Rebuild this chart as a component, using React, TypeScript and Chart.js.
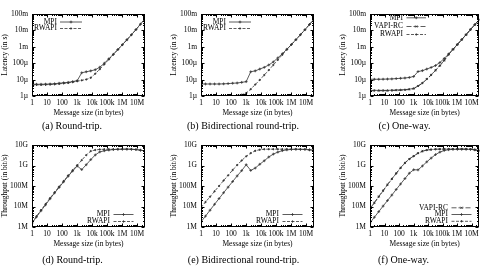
import React, { useEffect, useRef } from "react";
import { Chart, registerables } from "chart.js";
Chart.register(...registerables);

// ---------- data ----------
const sizes = [1, 2, 4, 8, 16, 32, 64, 128, 256, 512, 1024, 2048, 4096, 8192, 16384, 32768, 65536, 131072, 262144, 524288, 1048576, 2097152, 4194304, 8388608, 16777216, 33554432];

const xTickValues = [1, 10, 100, 1000, 10000, 100000, 1000000, 10000000];
const xTickLabels = ["1", "10", "100", "1k", "10k", "100k", "1M", "10M"];
// latency axis in microseconds
const latTickValues = [1, 10, 100, 1000, 10000, 100000];
const latTickLabels = ["1µ", "10µ", "100µ", "1m", "10m", "100m"];
// throughput axis in Mbit/s
const thrTickValues = [1, 10, 100, 1000, 10000];
const thrTickLabels = ["1M", "10M", "100M", "1G", "10G"];

// (a) round-trip latency (µs)
const rtMpiLat = [5.2, 5.2, 5.2, 5.3, 5.4, 5.6, 6.0, 6.4, 6.8, 7.6, 8.6, 26, 30, 34, 40, 57, 100, 185, 350, 680, 1340, 2680, 5400, 11200, 24000, 52000];
const rtRwapiLat = [4.8, 4.8, 4.8, 4.9, 5.0, 5.2, 5.5, 5.9, 6.3, 7.0, 8.0, 9.0, 10.2, 13, 23, 43, 85, 170, 340, 680, 1340, 2680, 5400, 11200, 24000, 52000];
// (b) bidirectional round-trip latency (µs)
const biMpiLat = [5.4, 5.4, 5.4, 5.4, 5.4, 5.5, 5.7, 6.0, 6.2, 6.8, 7.5, 30, 34, 44, 56, 78, 120, 210, 380, 710, 1370, 2720, 5450, 11000, 23000, 48000];
const biRwapiLat = [0.85, 0.86, 0.86, 0.87, 0.88, 0.9, 0.92, 0.96, 1.04, 1.2, 1.5, 2.6, 5.0, 9.5, 19, 38, 78, 160, 330, 680, 1370, 2720, 5450, 11000, 23000, 48000];
// (c) one-way latency (µs)
const owMpiLat = [10.5, 10.5, 10.5, 10.6, 10.8, 11.0, 11.5, 12.0, 12.5, 13.5, 15.5, 31, 35, 44, 55, 72, 110, 195, 360, 700, 1380, 2750, 5500, 11200, 22500, 45000];
const owVapiLat = [2.1, 2.1, 2.1, 2.1, 2.1, 2.15, 2.2, 2.25, 2.35, 2.5, 2.8, 4.0, 6.0, 10.5, 19, 36, 70, 145, 340, 690, 1380, 2750, 5500, 11200, 22500, 45000];
const owRwapiLat = [2.2, 2.2, 2.2, 2.2, 2.2, 2.25, 2.3, 2.35, 2.45, 2.6, 2.9, 4.1, 6.2, 10.8, 19.5, 37, 72, 148, 345, 695, 1380, 2750, 5500, 11200, 22500, 45000];

// (d) round-trip throughput (Mbit/s)
const rtMpiThr = [1.55, 3.1, 6.2, 12, 24, 46, 85, 160, 300, 540, 950, 630, 1090, 1930, 3280, 4600, 5240, 5670, 5990, 6170, 6260, 6260, 6210, 5990, 5590, 5160];
const rtRwapiThr = [1.67, 3.33, 6.7, 13.1, 25.6, 49, 93, 174, 325, 585, 1020, 1820, 3210, 5040, 5700, 6100, 6170, 6170, 6170, 6170, 6260, 6260, 6210, 5990, 5590, 5160];
// (e) bidirectional round-trip throughput (Mbit/s)
const biMpiThr = [1.8, 3.4, 6.6, 12.8, 24.5, 47, 88, 165, 310, 560, 1090, 575, 750, 1150, 1700, 2600, 3600, 4500, 5300, 5800, 6100, 6200, 6150, 6100, 5800, 5600];
const biRwapiThr = [9, 16.5, 30, 55, 100, 185, 330, 600, 1050, 1750, 2800, 4000, 5200, 5900, 6200, 6250, 6250, 6250, 6250, 6250, 6200, 6200, 6150, 6100, 5800, 5600];
// (f) one-way throughput (Mbit/s)
const owVapiThr = [8, 15.5, 31, 60, 118, 225, 420, 780, 1350, 2100, 2900, 4000, 5000, 5700, 6000, 6200, 6300, 6300, 6300, 6300, 6300, 6300, 6250, 6200, 5900, 5300];
const owMpiThr = [1.6, 3.0, 5.6, 10.5, 19.5, 36, 68, 125, 230, 420, 620, 610, 950, 1500, 2300, 3400, 4500, 5400, 5900, 6100, 6200, 6250, 6200, 6100, 5800, 5300];
const owRwapiThr = [7.6, 15, 30, 58, 114, 218, 405, 760, 1320, 2050, 2850, 3950, 4950, 5650, 5980, 6180, 6280, 6300, 6300, 6300, 6300, 6300, 6250, 6200, 5900, 5300];

// ---------- styles ----------
const FONT = '"Liberation Serif", "Times New Roman", serif';
const LINE = "#333";
const styles: Record<string, any> = {
  MPI: { borderDash: [], pointStyle: "cross", pointRadius: 1.4 },
  RWAPI: { borderDash: [3, 1.5], pointStyle: "circle", pointRadius: 0.7 },
  "VAPI-RC": { borderDash: [5, 2], pointStyle: "crossRot", pointRadius: 1.1 },
};

type Series = { label: string; data: number[] };
type PanelDef = {
  left: number; top: number; w: number;
  kind: "lat" | "thr";
  series: Series[];
  caption: string; capX: number; capY: number;
  legend: { textRight: number; s0: number; s1: number; rows: number[] };
};

const panels: PanelDef[] = [
  { left: 0, top: 0, w: 160, kind: "lat", series: [{ label: "MPI", data: rtMpiLat }, { label: "RWAPI", data: rtRwapiLat }], caption: "(a) Round-trip.", capX: 72, capY: 126, legend: { textRight: 25, s0: 28, s1: 50, rows: [22, 28.5] } },
  { left: 169, top: 0, w: 160, kind: "lat", series: [{ label: "MPI", data: biMpiLat }, { label: "RWAPI", data: biRwapiLat }], caption: "(b) Bidirectional round-trip.", capX: 243, capY: 126, legend: { textRight: 25, s0: 28, s1: 50, rows: [22, 28.5] } },
  { left: 338, top: 0, w: 146, kind: "lat", series: [{ label: "MPI", data: owMpiLat }, { label: "VAPI-RC", data: owVapiLat }, { label: "RWAPI", data: owRwapiLat }], caption: "(c) One-way.", capX: 404.5, capY: 126, legend: { textRight: 33, s0: 36.5, s1: 56, rows: [17.8, 26.5, 34.5] } },
  { left: 0, top: 131, w: 160, kind: "thr", series: [{ label: "MPI", data: rtMpiThr }, { label: "RWAPI", data: rtRwapiThr }], caption: "(d) Round-trip.", capX: 72.5, capY: 259.5, legend: { textRight: 78, s0: 81.5, s1: 101.5, rows: [83.5, 90.5] } },
  { left: 169, top: 131, w: 160, kind: "thr", series: [{ label: "MPI", data: biMpiThr }, { label: "RWAPI", data: biRwapiThr }], caption: "(e) Bidirectional round-trip.", capX: 243.5, capY: 259.5, legend: { textRight: 78, s0: 81.5, s1: 101.5, rows: [83.5, 90.5] } },
  { left: 338, top: 131, w: 146, kind: "thr", series: [{ label: "VAPI-RC", data: owVapiThr }, { label: "MPI", data: owMpiThr }, { label: "RWAPI", data: owRwapiThr }], caption: "(f) One-way.", capX: 403.5, capY: 259.5, legend: { textRight: 78, s0: 81.5, s1: 101.5, rows: [76.8, 83.5, 90.3] } },
];

function drawMarker(ctx: CanvasRenderingContext2D, style: string, x: number, y: number, r: number) {
  ctx.beginPath();
  if (style === "cross") {
    ctx.moveTo(x - r, y); ctx.lineTo(x + r, y);
    ctx.moveTo(x, y - r); ctx.lineTo(x, y + r);
    ctx.stroke();
  } else if (style === "crossRot") {
    ctx.moveTo(x - r, y - r); ctx.lineTo(x + r, y + r);
    ctx.moveTo(x - r, y + r); ctx.lineTo(x + r, y - r);
    ctx.stroke();
  } else {
    ctx.arc(x, y, r, 0, Math.PI * 2);
    ctx.fill();
    ctx.stroke();
  }
}

const framePlugin = {
  id: "frame",
  afterDraw(chart: any) {
    const { ctx, chartArea: a, scales } = chart;
    const xs = scales.x, ys = scales.y;
    ctx.save();
    ctx.strokeStyle = "#000";
    ctx.lineWidth = 1;
    const L = Math.round(a.left) + 0.5, R = Math.round(a.right) - 0.5;
    const T = Math.round(a.top) + 0.5, B = Math.round(a.bottom) - 0.5;
    ctx.strokeRect(L, T, R - L, B - T);
    ctx.beginPath();
    for (let d = xs.min; d <= xs.max; d *= 10) {
      for (let k = 1; k < 10; k++) {
        const v = d * k;
        if (v > xs.max) break;
        const px = Math.round(xs.getPixelForValue(v)) + 0.5;
        const len = k === 1 ? 3 : 1.5;
        ctx.moveTo(px, B); ctx.lineTo(px, B - len);
        ctx.moveTo(px, T); ctx.lineTo(px, T + len);
      }
    }
    for (let d = ys.min; d <= ys.max * 1.0001; d *= 10) {
      for (let k = 1; k < 10; k++) {
        const v = d * k;
        if (v > ys.max * 1.0001) break;
        const py = Math.round(ys.getPixelForValue(v)) + 0.5;
        const len = k === 1 ? 3 : 1.5;
        ctx.moveTo(L, py); ctx.lineTo(L + len, py);
        ctx.moveTo(R, py); ctx.lineTo(R - len, py);
      }
    }
    ctx.stroke();
    ctx.restore();
  },
};

const legendPlugin = {
  id: "gnuLegend",
  afterDatasetsDraw(chart: any, _args: any, opts: any) {
    const { ctx, chartArea: a } = chart;
    ctx.save();
    ctx.font = `7.5px ${FONT}`;
    ctx.strokeStyle = LINE;
    ctx.lineWidth = 0.8;
    ctx.textAlign = "right";
    ctx.textBaseline = "middle";
    chart.data.datasets.forEach((ds: any, i: number) => {
      const y = opts.rows[i];
      ctx.fillStyle = "#000";
      ctx.fillText(ds.label, a.left + opts.textRight, y);
      ctx.setLineDash(ds.borderDash || []);
      ctx.beginPath();
      ctx.moveTo(a.left + opts.s0, y);
      ctx.lineTo(a.left + opts.s1, y);
      ctx.stroke();
      ctx.setLineDash([]);
      ctx.fillStyle = LINE;
      drawMarker(ctx, ds.pointStyle, a.left + (opts.s0 + opts.s1) / 2, y, ds.pointRadius);
    });
    ctx.restore();
  },
};

function makeConfig(p: PanelDef): any {
  const isLat = p.kind === "lat";
  const yVals = isLat ? latTickValues : thrTickValues;
  const yLabs = isLat ? latTickLabels : thrTickLabels;
  const font = { family: FONT, size: 7.5 };
  return {
    type: "line",
    data: {
      datasets: p.series.map((s) => ({
        label: s.label,
        data: sizes.map((x, i) => ({ x, y: s.data[i] })),
        borderColor: LINE,
        backgroundColor: LINE,
        borderWidth: 0.8,
        pointBorderWidth: 0.8,
        pointBackgroundColor: LINE,
        pointBorderColor: LINE,
        tension: 0,
        fill: false,
        ...styles[s.label],
      })),
    },
    options: {
      animation: false,
      responsive: false,
      devicePixelRatio: 1,
      layout: { padding: { top: 14, left: 0, right: p.w - 32 - 113, bottom: 0 } },
      plugins: {
        legend: { display: false },
        tooltip: { enabled: false },
        gnuLegend: p.legend,
      },
      scales: {
        x: {
          type: "logarithmic",
          min: 1,
          max: 33554432,
          grid: { display: false, drawTicks: false },
          border: { display: false },
          afterBuildTicks: (s: any) => { s.ticks = xTickValues.map((v) => ({ value: v })); },
          afterFit: (s: any) => { s.height = 24; },
          ticks: {
            autoSkip: false, maxRotation: 0, color: "#000", font, padding: 2.5,
            callback: (_v: any, i: number) => xTickLabels[i],
          },
          title: { display: true, text: "Message size (in bytes)", color: "#000", font, padding: { top: 0, bottom: 2.5 } },
        },
        y: {
          type: "logarithmic",
          min: yVals[0],
          max: yVals[yVals.length - 1],
          grid: { display: false, drawTicks: false },
          border: { display: false },
          afterBuildTicks: (s: any) => { s.ticks = yVals.map((v) => ({ value: v })); },
          afterFit: (s: any) => { s.width = 32; },
          ticks: {
            autoSkip: false, color: "#000", font, padding: 4,
            callback: (_v: any, i: number) => yLabs[i],
          },
          title: { display: true, text: isLat ? "Latency (in s)" : "Throughput (in bit/s)", color: "#000", font, padding: { top: 0.5, bottom: 0 } },
        },
      },
    },
    plugins: [framePlugin, legendPlugin],
  };
}

function Panel({ p }: { p: PanelDef }) {
  const ref = useRef<HTMLCanvasElement>(null);
  useEffect(() => {
    const chart = new Chart(ref.current as HTMLCanvasElement, makeConfig(p));
    return () => chart.destroy();
  }, [p]);
  return (
    <>
      <canvas
        ref={ref}
        width={p.w}
        height={120}
        style={{ position: "absolute", left: p.left, top: p.top, width: p.w, height: 120 }}
      />
      <div
        style={{
          position: "absolute", left: p.capX - 90, width: 180, top: p.capY - 7, height: 14,
          lineHeight: "14px", textAlign: "center", whiteSpace: "nowrap",
          fontFamily: FONT, fontSize: 10, color: "#000",
        }}
      >
        {p.caption}
      </div>
    </>
  );
}

export default function App() {
  return (
    <div style={{ position: "absolute", left: 0, top: 0, width: 484, height: 266, overflow: "hidden", background: "#fff" }}>
      {panels.map((p, i) => <Panel key={i} p={p} />)}
    </div>
  );
}
